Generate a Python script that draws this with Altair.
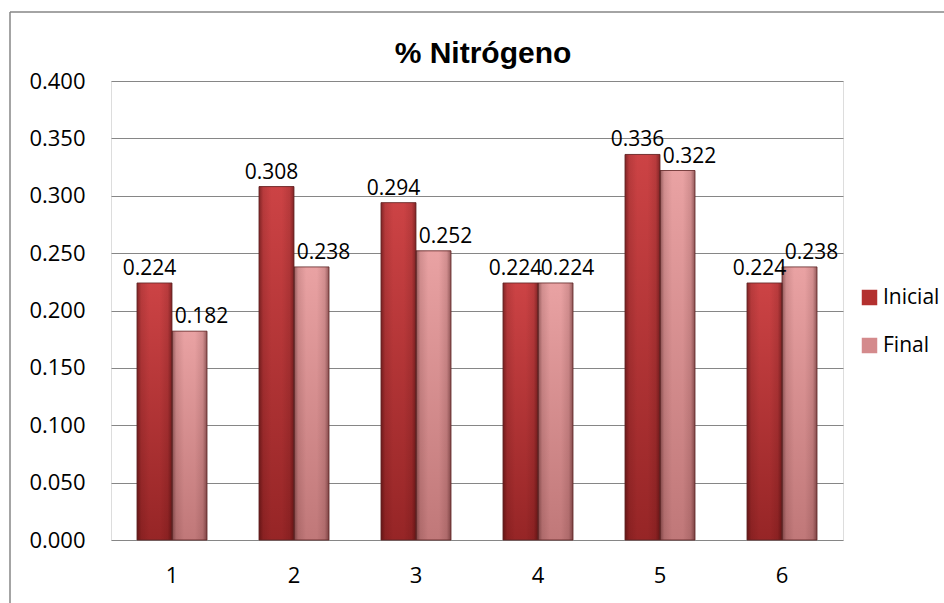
import altair as alt
import pandas as pd

# Nitrogen content per sample, before and after treatment
muestras = ["1", "2", "3", "4", "5", "6"]
inicial = [0.224, 0.308, 0.294, 0.224, 0.336, 0.224]
final = [0.182, 0.238, 0.252, 0.224, 0.322, 0.238]
series = ["Inicial", "Final"]
y_ticks = [0.0, 0.05, 0.10, 0.15, 0.20, 0.25, 0.30, 0.35, 0.40]
titulo = "% Nitrógeno"

rows = []
for m, a, b in zip(muestras, inicial, final):
    rows.append({"muestra": m, "serie": "Inicial", "valor": a})
    rows.append({"muestra": m, "serie": "Final", "valor": b})
df = pd.DataFrame(rows)

GRID = "#868686"
FONT = "Open Sans"


def vgrad(top, bottom):
    return alt.Gradient(
        gradient="linear",
        stops=[alt.GradientStop(color=top, offset=0),
               alt.GradientStop(color=bottom, offset=1)],
        x1=0, x2=0, y1=0, y2=1,
    )


# darker side edges for a rounded, bevelled look
side_shade = alt.Gradient(
    gradient="linear",
    stops=[
        alt.GradientStop(color="rgba(40,0,0,0.45)", offset=0),
        alt.GradientStop(color="rgba(40,0,0,0.12)", offset=0.12),
        alt.GradientStop(color="rgba(40,0,0,0)", offset=0.35),
        alt.GradientStop(color="rgba(40,0,0,0)", offset=0.65),
        alt.GradientStop(color="rgba(40,0,0,0.12)", offset=0.88),
        alt.GradientStop(color="rgba(40,0,0,0.45)", offset=1),
    ],
    x1=0, x2=1, y1=0, y2=0,
)

x_enc = alt.X(
    "muestra:N",
    sort=muestras,
    scale=alt.Scale(paddingInner=0.426, paddingOuter=0.213),
    axis=alt.Axis(title=None, labelAngle=0, ticks=False, domain=False, grid=False,
                  labelPadding=25, labelFont=FONT, labelFontSize=22, labelColor="black"),
)
xo_enc = alt.XOffset("serie:N", scale=alt.Scale(domain=series))
y_enc = alt.Y(
    "valor:Q",
    scale=alt.Scale(domain=[0, 0.4], nice=False),
    axis=alt.Axis(values=y_ticks, format=".3f", title=None, ticks=False, domain=False,
                  grid=True, gridColor=GRID, gridWidth=1, gridOpacity=1,
                  labelPadding=26, labelFont=FONT, labelFontSize=22, labelColor="black"),
)

base = alt.Chart(df)

bars = base.mark_bar().encode(
    x=x_enc, xOffset=xo_enc, y=y_enc,
    color=alt.Color(
        "serie:N",
        scale=alt.Scale(domain=series, range=["#b3302f", "#d48a8c"]),
        legend=alt.Legend(
            title=None, orient="none", legendX=748, legendY=206, padding=0,
            symbolType="square", symbolSize=240, symbolStrokeWidth=0,
            labelFont=FONT, labelFontSize=21, labelColor="black",
            labelOffset=3, rowPadding=26, labelLimit=200,
        ),
    ),
)

bars_ini = base.transform_filter(alt.datum.serie == "Inicial").mark_bar(
    color=vgrad("#cc4345", "#962526")
).encode(x=x_enc, xOffset=xo_enc, y=y_enc)

bars_fin = base.transform_filter(alt.datum.serie == "Final").mark_bar(
    color=vgrad("#e9a2a3", "#c07879")
).encode(x=x_enc, xOffset=xo_enc, y=y_enc)

shade = base.mark_bar(color=side_shade, stroke="#5e2424", strokeWidth=0.8).encode(
    x=x_enc, xOffset=xo_enc, y=y_enc
)

# value labels, nudged apart so the pair above each sample stays readable
label_style = dict(baseline="alphabetic", dy=-8, font=FONT, fontSize=21, color="black")
labels_ini = base.transform_filter(alt.datum.serie == "Inicial").mark_text(
    dx=-5, **label_style
).encode(x=x_enc, xOffset=xo_enc, y=y_enc, text=alt.Text("valor:Q", format=".3f"))
labels_fin = base.transform_filter(alt.datum.serie == "Final").mark_text(
    dx=12, **label_style
).encode(x=x_enc, xOffset=xo_enc, y=y_enc, text=alt.Text("valor:Q", format=".3f"))

frame = alt.Chart(pd.DataFrame({"titulo": [titulo]}))
title_mark = frame.mark_text(
    font="Liberation Sans", fontSize=30, fontWeight="bold", color="black",
    align="center", baseline="alphabetic",
).encode(x=alt.value(372), y=alt.value(-18), text="titulo:N")

border_top = frame.mark_rule(color=GRID, strokeWidth=1.5).encode(
    x=alt.value(-101), x2=alt.value(840), y=alt.value(-69)
)
border_left = frame.mark_rule(color=GRID, strokeWidth=1.5).encode(
    x=alt.value(-101), y=alt.value(-69), y2=alt.value(530)
)

chart = alt.layer(
    bars, bars_ini, bars_fin, shade, labels_ini, labels_fin,
    title_mark, border_top, border_left
).properties(
    width=732,
    height=459,
    autosize=alt.AutoSizeParams(type="none"),
    padding={"left": 111, "top": 81, "right": 101, "bottom": 63},
).configure_view(
    stroke=GRID, strokeWidth=1.5
).configure(background="white")

chart.save("out.html", embed_options={"renderer": "svg", "actions": False})
